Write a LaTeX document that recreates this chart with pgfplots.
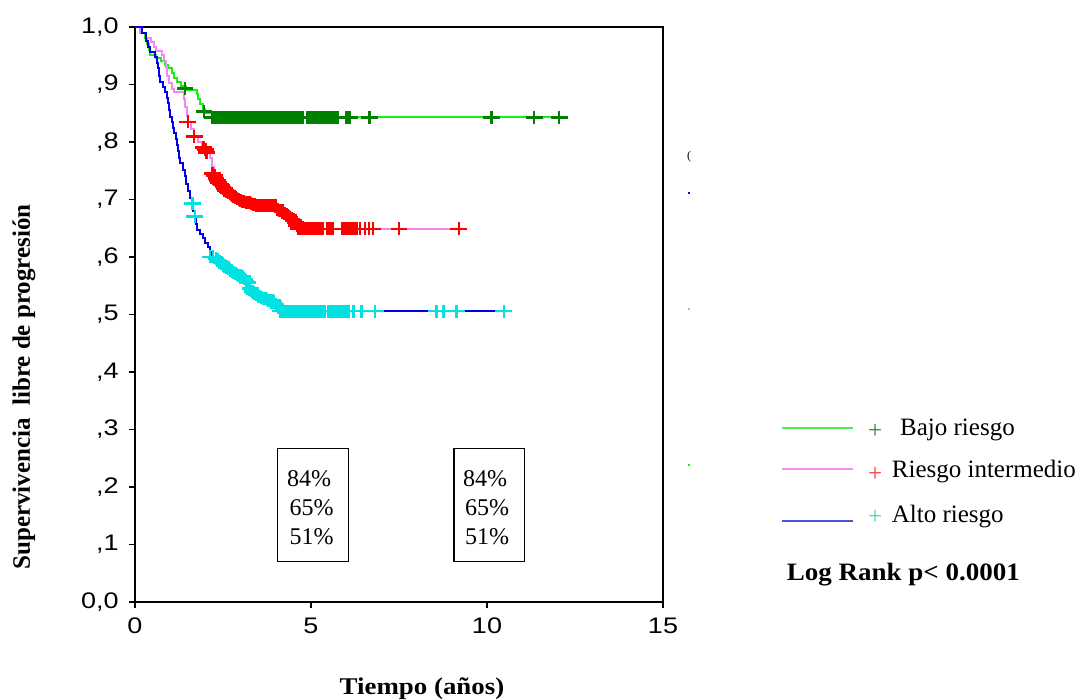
\documentclass[border=0pt]{standalone}
\usepackage{fontspec}
\setmainfont{Liberation Serif}
\newfontfamily\arial{Liberation Sans}
\usepackage{pgfplots}
\pgfplotsset{compat=1.18}
\definecolor{cgline}{RGB}{20,240,20}
\definecolor{cgmark}{RGB}{0,128,0}
\definecolor{cpline}{RGB}{245,135,245}
\definecolor{crmark}{RGB}{255,0,0}
\definecolor{cbline}{RGB}{0,0,235}
\definecolor{ccmark}{RGB}{0,225,225}
\definecolor{lgg}{RGB}{80,235,80}
\definecolor{lgp}{RGB}{245,140,245}
\definecolor{lgb}{RGB}{80,80,215}
\definecolor{lmg}{RGB}{40,140,60}
\definecolor{lmr}{RGB}{255,60,60}
\definecolor{lmc}{RGB}{60,215,190}
\begin{document}
\begin{tikzpicture}
\useasboundingbox (-135pt,-98pt) rectangle (956pt,602pt);
\begin{axis}[
  at={(0,0)}, anchor=south west, scale only axis,
  width=528pt, height=575pt,
  xmin=0, xmax=15, ymin=0, ymax=1,
  clip=false,
  axis line style={line width=1.8pt},
  xtick={0,5,10,15}, xticklabels={0,5,10,15},
  ytick={0,0.1,0.2,0.3,0.4,0.5,0.6,0.7,0.8,0.9,1.0},
  yticklabels={{0,0},{,1},{,2},{,3},{,4},{,5},{,6},{,7},{,8},{,9},{1,0}},
  tick align=outside, xtick pos=bottom, ytick pos=left,
  major tick length=6pt,
  tick style={line width=1.8pt, black},
  ticklabel style={font=\arial\fontsize{22.5}{26}\selectfont, xscale=1.2},
  yticklabel style={xshift=-5pt},
  xticklabel style={yshift=-6pt},
  /pgf/number format/assume math mode=true,
  mk/.style={only marks, mark=+, mark size=6.5pt, mark options={xscale=1.3, line width=2.6pt}},
]
% lines
\addplot[const plot, cgline, line width=2pt] coordinates {
(0,1.0)(0.2,0.99)(0.28,0.98)(0.35,0.97)(0.4,0.96)(0.43,0.952)(0.6,0.946)(0.75,0.94)(0.85,0.934)(0.95,0.928)(1.06,0.92)(1.12,0.912)(1.2,0.905)(1.3,0.897)(1.45,0.89)(1.75,0.883)(1.8,0.874)(1.85,0.866)(1.92,0.857)(2.0,0.85)(2.2,0.843)(12.05,0.843)};
\addplot[const plot, cpline, line width=2pt] coordinates {
(0,1.0)(0.15,0.99)(0.3,0.98)(0.45,0.974)(0.55,0.965)(0.6,0.958)(0.76,0.951)(0.82,0.94)(0.87,0.93)(0.92,0.915)(0.97,0.902)(1.05,0.893)(1.1,0.887)(1.38,0.875)(1.43,0.86)(1.47,0.845)(1.5,0.835)(1.6,0.822)(1.68,0.81)(1.78,0.8)(1.9,0.79)(2.05,0.782)(2.12,0.772)(2.2,0.757)(2.25,0.745)(2.35,0.735)(2.5,0.722)(2.7,0.71)(2.9,0.7)(3.2,0.695)(3.5,0.69)(4.05,0.682)(4.35,0.672)(4.5,0.664)(4.6,0.655)(4.68,0.649)(9.2,0.649)};
\addplot[const plot, cbline, line width=2pt] coordinates {
(0,1.0)(0.2,0.99)(0.3,0.975)(0.38,0.965)(0.43,0.957)(0.57,0.948)(0.62,0.938)(0.66,0.928)(0.69,0.915)(0.72,0.905)(0.8,0.895)(0.85,0.887)(0.9,0.877)(0.95,0.867)(0.97,0.855)(1.0,0.844)(1.05,0.835)(1.09,0.825)(1.12,0.815)(1.16,0.805)(1.2,0.795)(1.23,0.785)(1.26,0.773)(1.29,0.763)(1.35,0.752)(1.42,0.74)(1.46,0.727)(1.51,0.714)(1.55,0.703)(1.62,0.693)(1.66,0.68)(1.7,0.67)(1.73,0.658)(1.76,0.647)(1.85,0.64)(1.94,0.633)(2.0,0.625)(2.08,0.617)(2.13,0.609)(2.2,0.6)(2.35,0.594)(2.45,0.588)(2.6,0.582)(2.7,0.577)(2.85,0.571)(3.05,0.566)(3.2,0.556)(3.27,0.545)(3.4,0.537)(3.55,0.531)(3.75,0.527)(3.93,0.522)(4.05,0.515)(4.12,0.506)(10.48,0.506)};
% censor marks
\addplot[mk, cgmark] coordinates {
(1.42,0.893)(1.96,0.853)
(2.2,0.843)(2.25,0.843)(2.3,0.843)(2.35,0.843)(2.4,0.843)(2.45,0.843)(2.5,0.843)(2.55,0.843)(2.6,0.843)(2.64,0.843)(2.7,0.843)(2.75,0.843)(2.8,0.843)(2.85,0.843)(2.9,0.843)(2.95,0.843)(3.0,0.843)(3.05,0.843)(3.1,0.843)(3.15,0.843)(3.2,0.843)(3.25,0.843)(3.3,0.843)(3.35,0.843)(3.4,0.843)(3.45,0.843)(3.5,0.843)(3.55,0.843)(3.6,0.843)(3.65,0.843)(3.7,0.843)(3.75,0.843)(3.8,0.843)(3.85,0.843)(3.9,0.843)(3.95,0.843)(4.0,0.843)(4.05,0.843)(4.1,0.843)(4.15,0.843)(4.2,0.843)(4.25,0.843)(4.3,0.843)(4.35,0.843)(4.4,0.843)(4.45,0.843)(4.5,0.843)(4.55,0.843)(4.6,0.843)(4.65,0.843)(4.7,0.843)(4.75,0.843)(4.9,0.843)(4.95,0.843)(5.0,0.843)(5.05,0.843)(5.1,0.843)(5.15,0.843)(5.2,0.843)(5.25,0.843)(5.3,0.843)(5.35,0.843)(5.4,0.843)(5.45,0.843)(5.5,0.843)(5.55,0.843)(5.6,0.843)(5.65,0.843)(5.7,0.843)(5.77,0.843)(6.0,0.843)(6.1,0.843)(6.66,0.843)(10.13,0.843)(11.34,0.843)(12.05,0.843)};
\addplot[mk, crmark] coordinates {
(1.5,0.835)(1.68,0.81)(1.95,0.79)(2.0,0.787)(2.03,0.782)(2.2,0.745)(2.25,0.742)(2.3,0.737)(2.34,0.733)(2.38,0.73)(2.42,0.727)(2.45,0.725)(2.5,0.722)(2.54,0.719)(2.58,0.716)(2.62,0.714)(2.65,0.712)(2.7,0.71)(2.75,0.707)(2.8,0.705)(2.85,0.703)(2.9,0.701)(2.95,0.7)(3.0,0.698)(3.05,0.697)(3.1,0.696)(3.15,0.695)(3.2,0.695)(3.25,0.694)(3.3,0.693)(3.35,0.692)(3.4,0.691)(3.45,0.69)(3.5,0.69)(3.55,0.69)(3.6,0.69)(3.65,0.69)(3.7,0.69)(3.75,0.69)(3.8,0.69)(3.85,0.69)(3.9,0.69)(3.95,0.69)(4.0,0.69)(4.05,0.682)(4.1,0.681)(4.15,0.68)(4.2,0.678)(4.25,0.676)(4.3,0.674)(4.35,0.672)(4.4,0.669)(4.45,0.666)(4.5,0.663)(4.55,0.66)(4.6,0.655)(4.63,0.65)(4.7,0.649)
(4.74,0.649)(4.78,0.649)(4.82,0.649)(4.86,0.649)(4.9,0.649)(4.94,0.649)(4.98,0.649)(5.02,0.649)(5.06,0.649)(5.1,0.649)(5.14,0.649)(5.18,0.649)(5.22,0.649)(5.26,0.649)(5.3,0.649)(5.34,0.649)(5.45,0.649)(5.5,0.649)(5.55,0.649)(5.62,0.649)(5.88,0.649)(5.93,0.649)(5.98,0.649)(6.05,0.649)(6.1,0.649)(6.15,0.649)(6.22,0.649)(6.3,0.649)(6.39,0.649)(6.53,0.649)(6.65,0.649)(6.76,0.649)(7.5,0.649)(9.2,0.649)};
\addplot[mk, ccmark] coordinates {
(1.63,0.693)(1.7,0.67)(2.13,0.6)(2.22,0.6)(2.3,0.597)(2.35,0.595)(2.4,0.592)(2.45,0.59)(2.5,0.588)(2.55,0.585)(2.6,0.582)(2.65,0.58)(2.7,0.577)(2.75,0.575)(2.8,0.573)(2.85,0.571)(2.9,0.57)(2.95,0.568)(3.0,0.567)(3.05,0.566)(3.1,0.562)(3.15,0.558)(3.2,0.556)(3.27,0.545)(3.33,0.54)(3.37,0.538)(3.4,0.537)(3.44,0.535)(3.47,0.534)(3.51,0.532)(3.55,0.531)(3.6,0.53)(3.65,0.528)(3.7,0.527)(3.75,0.526)(3.8,0.525)(3.85,0.525)(3.9,0.524)(3.95,0.522)(4.0,0.518)(4.05,0.515)(4.08,0.512)(4.12,0.506)
(4.16,0.506)(4.2,0.506)(4.24,0.506)(4.28,0.506)(4.32,0.506)(4.36,0.506)(4.4,0.506)(4.44,0.506)(4.48,0.506)(4.52,0.506)(4.56,0.506)(4.6,0.506)(4.65,0.506)(4.72,0.506)(4.76,0.506)(4.8,0.506)(4.88,0.506)(4.92,0.506)(4.95,0.506)(5.02,0.506)(5.06,0.506)(5.1,0.506)(5.18,0.506)(5.22,0.506)(5.25,0.506)(5.32,0.506)(5.36,0.506)(5.4,0.506)(5.48,0.506)(5.55,0.506)(5.58,0.506)(5.62,0.506)(5.7,0.506)(5.78,0.506)(5.82,0.506)(5.85,0.506)(5.92,0.506)(5.96,0.506)(6.0,0.506)(6.04,0.506)(6.08,0.506)(6.2,0.506)(6.44,0.506)(6.82,0.506)(8.57,0.506)(8.76,0.506)(9.14,0.506)(10.48,0.506)};
\end{axis}
% annotations in pixel coordinates
\begin{scope}[shift={(-135pt,602pt)}, x=1pt, y=-1pt]
  \node[font=\bfseries\fontsize{24}{28}\selectfont, xscale=1.12] at (422,689) {Tiempo (años)};
  \node[font=\bfseries\fontsize{25}{28}\selectfont, rotate=90] at (24,387) {Supervivencia\ \ libre de progresión};
  % percent boxes
  \draw[line width=1.2pt] (277.7,448.3) rectangle (348.3,561.7);
  \draw[line width=1.2pt] (454,448.3) rectangle (524.3,561.7);
  \begin{scope}[every node/.style={font=\fontsize{24}{28}\selectfont, inner sep=0pt}]
    \node at (309,479) {84\%};
    \node at (311.5,508) {65\%};
    \node at (311.5,537) {51\%};
    \node at (485,479) {84\%};
    \node at (487,508) {65\%};
    \node at (487,537) {51\%};
  \end{scope}
  % legend
  \draw[line width=2pt, lgg] (782,427.7) -- (853,427.7);
  \draw[line width=2pt, lgp] (782,469) -- (853,469);
  \draw[line width=2pt, lgb] (782,520.7) -- (853,520.7);
  \begin{scope}[every node/.style={font=\fontsize{25}{28}\selectfont, inner sep=0pt, anchor=west}]
    \node[text=lmg] at (868,431) {+};
    \node[text=lmr] at (868,474) {+};
    \node[text=lmc] at (868,517) {+};
    \node at (900,430) {Bajo riesgo};
    \node at (891.7,472) {Riesgo intermedio};
    \node at (891.7,517) {Alto riesgo};
  \end{scope}
  \node[font=\bfseries\fontsize{25}{28}\selectfont, anchor=west, inner sep=0pt, xscale=1.08] at (786.7,575) {Log Rank p< 0.0001};
  % remnants of a hidden legend
  \node[font=\fontsize{12}{14}\selectfont, inner sep=0pt] at (689,157) {(};
  \fill[blue] (688,192) rectangle (690,194);
  \fill[cpline] (688,308) rectangle (690,310);
  \fill[cgline] (688,464) rectangle (690,466);
\end{scope}
\end{tikzpicture}
\end{document}
